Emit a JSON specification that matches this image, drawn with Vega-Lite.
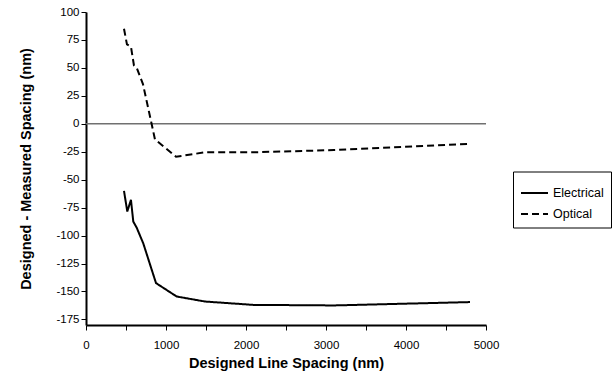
{
  "$schema": "https://vega.github.io/schema/vega-lite/v6.json",
  "autosize": "none",
  "width": 400,
  "height": 313,
  "padding": {"left": 86, "top": 12, "right": 127, "bottom": 48},
  "background": "white",
  "config": {
    "font": "Liberation Sans",
    "view": {"stroke": null},
    "axis": {"grid": false, "domainColor": "black", "tickColor": "black", "labelColor": "black", "titleColor": "black", "labelFont": "Liberation Sans", "titleFont": "Liberation Sans", "labelFontSize": 11.5, "titleFontSize": 14.5, "titleFontWeight": "bold", "domainWidth": 2, "tickWidth": 1, "tickSize": 5, "labelOverlap": false}
  },
  "datasets": {
    "lines": [
      {"spacing": 475, "diff": -60, "series": "Electrical"},
      {"spacing": 516, "diff": -78.5, "series": "Electrical"},
      {"spacing": 562, "diff": -68, "series": "Electrical"},
      {"spacing": 591, "diff": -87.5, "series": "Electrical"},
      {"spacing": 634, "diff": -93, "series": "Electrical"},
      {"spacing": 716, "diff": -107, "series": "Electrical"},
      {"spacing": 875, "diff": -142.5, "series": "Electrical"},
      {"spacing": 1133, "diff": -154.5, "series": "Electrical"},
      {"spacing": 1487, "diff": -159, "series": "Electrical"},
      {"spacing": 2090, "diff": -162, "series": "Electrical"},
      {"spacing": 3100, "diff": -162.5, "series": "Electrical"},
      {"spacing": 4800, "diff": -159.5, "series": "Electrical"},
      {"spacing": 475, "diff": 85, "series": "Optical"},
      {"spacing": 512, "diff": 71, "series": "Optical"},
      {"spacing": 562, "diff": 69, "series": "Optical"},
      {"spacing": 600, "diff": 52, "series": "Optical"},
      {"spacing": 637, "diff": 49.5, "series": "Optical"},
      {"spacing": 712, "diff": 35.5, "series": "Optical"},
      {"spacing": 820, "diff": 0, "series": "Optical"},
      {"spacing": 862, "diff": -14, "series": "Optical"},
      {"spacing": 1125, "diff": -29.5, "series": "Optical"},
      {"spacing": 1487, "diff": -25.5, "series": "Optical"},
      {"spacing": 2090, "diff": -25.5, "series": "Optical"},
      {"spacing": 3100, "diff": -23.5, "series": "Optical"},
      {"spacing": 4800, "diff": -18, "series": "Optical"}
    ],
    "zero": [{"diff": 0}]
  },
  "encoding": {
    "y": {"field": "diff", "type": "quantitative", "scale": {"domain": [-180, 100], "nice": false},
      "axis": {"title": "Designed - Measured Spacing (nm)", "values": [-175,-150,-125,-100,-75,-50,-25,0,25,50,75,100], "labelExpr": "'' + datum.value", "titlePadding": 22, "labelPadding": 2, "labelOverlap": false, "labelBound": false}}
  },
  "layer": [
    {
      "data": {"name": "zero"},
      "mark": {"type": "rule", "color": "#707070", "strokeWidth": 1.5}
    },
    {
      "data": {"name": "lines"},
      "mark": {"type": "line", "color": "black", "strokeWidth": 2},
      "encoding": {
        "x": {"field": "spacing", "type": "quantitative", "scale": {"domain": [0, 5000], "nice": false},
          "axis": {"title": "Designed Line Spacing (nm)", "values": [0,500,1000,1500,2000,2500,3000,3500,4000,4500,5000], "labelExpr": "datum.value % 1000 == 0 ? '' + datum.value : ''", "titlePadding": 6, "labelPadding": 9, "labelFlush": false, "labelOverlap": false}},
        "strokeDash": {"field": "series", "type": "nominal", "scale": {"domain": ["Electrical", "Optical"], "range": [[1, 0], [7, 4]]},
          "legend": {"title": null, "orient": "none", "legendX": 427, "legendY": 159.5, "strokeColor": "black", "padding": 7, "labelFontSize": 12.5, "labelColor": "black", "symbolType": "stroke", "symbolStrokeColor": "black", "symbolStrokeWidth": 2, "symbolSize": 729, "rowPadding": -9, "labelOffset": 4}},
        "order": {"field": "spacing", "type": "quantitative"}
      }
    }
  ]
}
